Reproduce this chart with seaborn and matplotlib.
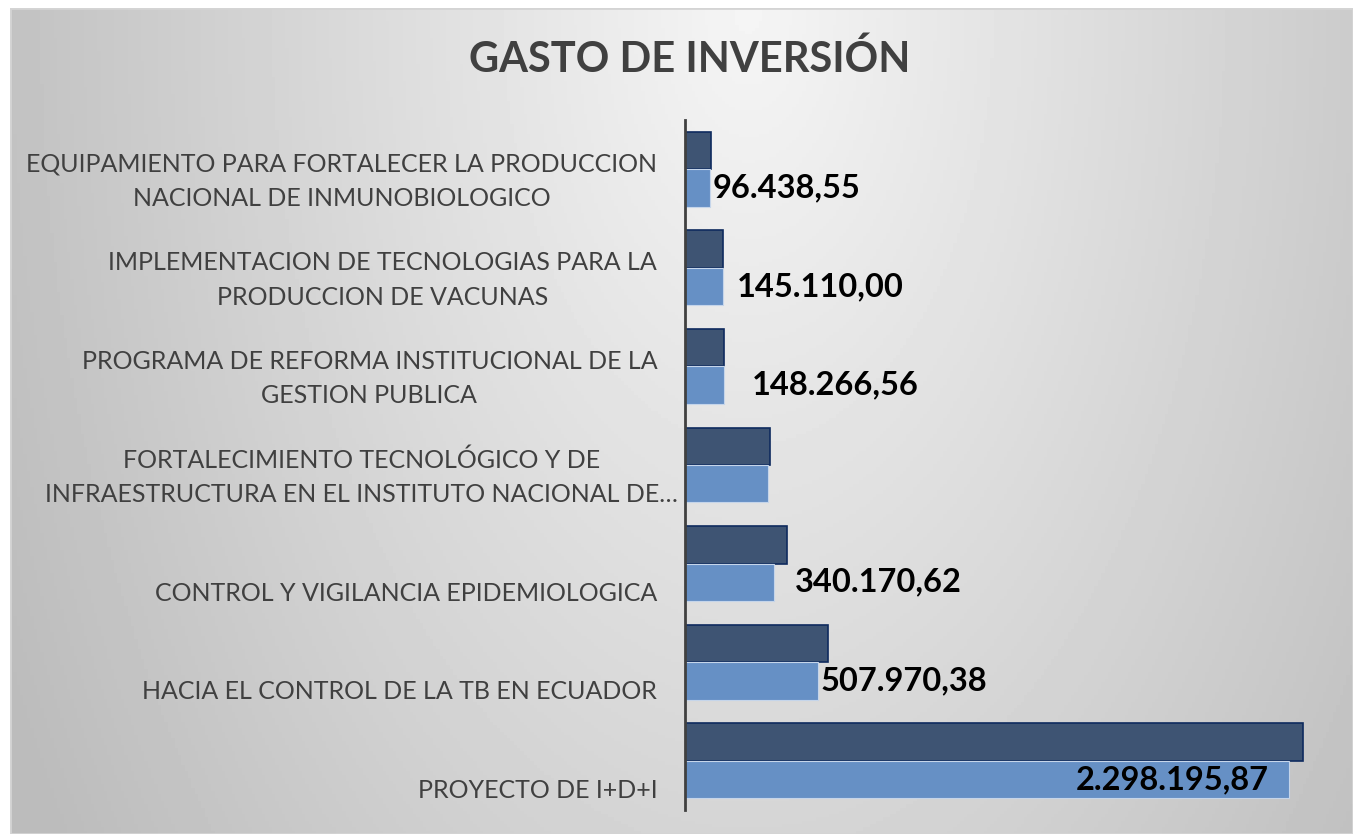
import numpy as np
import pandas as pd
import seaborn as sns
import matplotlib.pyplot as plt
from matplotlib.transforms import ScaledTranslation

# datos del grafico
proyectos = [
    "EQUIPAMIENTO PARA FORTALECER LA PRODUCCION\nNACIONAL DE INMUNOBIOLOGICO",
    "IMPLEMENTACION DE TECNOLOGIAS PARA LA\nPRODUCCION DE VACUNAS",
    "PROGRAMA DE REFORMA INSTITUCIONAL DE LA\nGESTION PUBLICA",
    "FORTALECIMIENTO TECNOLÓGICO Y DE\nINFRAESTRUCTURA EN EL INSTITUTO NACIONAL DE…",
    "CONTROL Y VIGILANCIA EPIDEMIOLOGICA",
    "HACIA EL CONTROL DE LA TB EN ECUADOR",
    "PROYECTO DE I+D+I",
]
serie_1 = [97700, 146500, 149000, 325000, 388000, 545600, 2351500]
serie_2 = [96438.55, 145110.00, 148266.56, 315000, 340170.62, 507970.38, 2298195.87]
etiquetar = [True, True, True, False, True, True, True]

titulo = "GASTO DE INVERSIÓN"

# posicion de cada etiqueta de valor (pixeles desde el final de la barra)
desplaz_etiqueta = [2, 14, 28, 0, 21, 2, -20]

df = pd.DataFrame({
    "proyecto": proyectos * 2,
    "serie": ["Serie 1"] * len(proyectos) + ["Serie 2"] * len(proyectos),
    "monto": serie_1 + serie_2,
})

sns.set_style("white")
plt.rcParams["font.family"] = ["Lato", "DejaVu Sans"]

fig = plt.figure(figsize=(13.53, 8.34), dpi=100)

# fondo degradado
bg = fig.add_axes([10 / 1353, 0, 1 - 10 / 1353, 1 - 8 / 834])
u = np.linspace(0, 1, 400)
v = np.linspace(0, 1, 250)
U, V = np.meshgrid(u, v)
r = np.sqrt(((U - 0.55) / 0.52) ** 2 + (V / 1.5) ** 2)
val = np.clip(245 - 48 * r, 188, 255) / 255
bg.imshow(val, cmap="gray", vmin=0, vmax=1, aspect="auto", extent=[0, 1, 1, 0])
bg.set_axis_off()
bg.add_patch(plt.Rectangle((0, 0), 1, 1, transform=bg.transAxes, fill=False,
                           edgecolor="#d4d4d4", lw=2))

ax = fig.add_axes([685 / 1353, 1 - 810 / 834, (1341.7 - 685) / 1353, 690 / 834])
ax.patch.set_alpha(0)

sns.barplot(data=df, y="proyecto", x="monto", hue="serie", orient="h",
            palette=["#3e5473", "#6690c5"], saturation=1, width=0.76,
            gap=0, legend=False, ax=ax)

for bar in ax.containers[0]:
    bar.set_edgecolor("#0e2a5e")
    bar.set_linewidth(1.2)
for bar in ax.containers[1]:
    bar.set_edgecolor("#c5d5ea")
    bar.set_linewidth(0.8)

ax.set_xlim(0, 2500000)
ax.set_xlabel("")
ax.set_ylabel("")
ax.set_xticks([])
for s in ["top", "right", "bottom"]:
    ax.spines[s].set_visible(False)
ax.spines["left"].set_color("#404040")
ax.spines["left"].set_linewidth(2)

ax.tick_params(axis="y", length=0, pad=20, labelsize=18, labelcolor="#404040")
for i, lab in enumerate(ax.get_yticklabels()):
    lab.set_multialignment("center")
    lab.set_verticalalignment("bottom")
    lab.set_linespacing(1.6)
    dx = 21 / 100 if i == 3 else 0
    lab.set_transform(lab.get_transform() + ScaledTranslation(dx, -0.41, fig.dpi_scale_trans))


def formato(x):
    s = f"{x:,.2f}"
    return s.replace(",", "X").replace(".", ",").replace("X", ".")


for bar, val_, show, off in zip(ax.containers[1], serie_2, etiquetar, desplaz_etiqueta):
    if not show:
        continue
    ax.annotate(formato(val_), (bar.get_width(), bar.get_y() + bar.get_height() / 2),
                xytext=(off, 0), textcoords="offset pixels",
                ha="left" if off >= 0 else "right", va="center",
                fontsize=23.5, fontweight="bold", color="black")

fig.text(690 / 1353, 1 - 59 / 834, titulo, ha="center", va="center",
         fontsize=30, fontweight="bold", color="#404040")

fig.savefig("out.png", dpi=100, facecolor="white")
